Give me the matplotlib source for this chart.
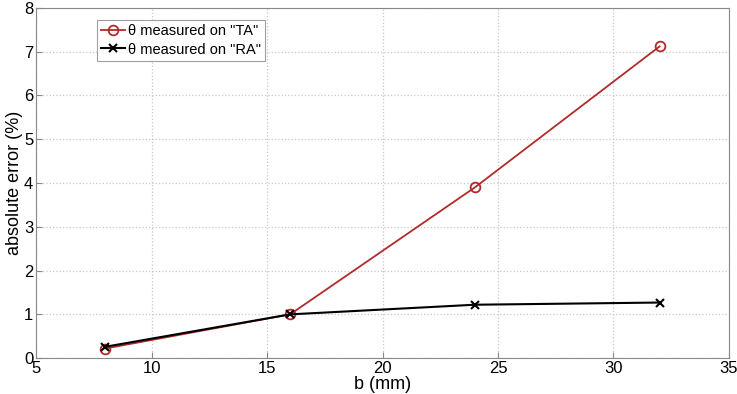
import matplotlib
matplotlib.use("Agg")
import matplotlib.pyplot as plt

plt.rcParams["font.family"] = ["Liberation Sans", "DejaVu Sans"]

b_mm = [8, 16, 24, 32]
err_ta = [0.22, 1.0, 3.9, 7.12]
err_ra = [0.26, 1.0, 1.22, 1.27]

fig = plt.figure(figsize=(7.37, 3.94), dpi=100)
ax = fig.add_axes([0.049, 0.091, 0.940, 0.889])

ax.plot(b_mm, err_ta, color="#b22a2a", lw=1.3, marker="o", ms=7,
        mfc="none", mec="#b22a2a", mew=1.3, label='θ measured on "TA"')
ax.plot(b_mm, err_ra, color="black", lw=1.5, marker="x", ms=6,
        mew=1.5, label='θ measured on "RA"')

ax.set_xlim(5, 35)
ax.set_ylim(0, 8)
ax.set_xticks(range(5, 36, 5))
ax.set_yticks(range(0, 9))
ax.grid(True, color="#c8c8c8", linestyle=":", linewidth=0.9)
ax.tick_params(direction="in", labelsize=12, length=4, color="#888888", pad=2)
for s in ax.spines.values():
    s.set_color("#888888")

ax.set_xlabel("b (mm)", fontsize=13, labelpad=0)
ax.set_ylabel("absolute error (%)", fontsize=13, labelpad=1)

leg = ax.legend(loc="upper left", bbox_to_anchor=(0.088, 0.966), borderaxespad=0,
                fontsize=10.5, frameon=True, fancybox=False, handlelength=1.6,
                handletextpad=0.2, labelspacing=0.3, borderpad=0.3)
leg.get_frame().set_edgecolor("#888888")
leg.get_frame().set_linewidth(0.8)

fig.savefig("out.png", dpi=100)
